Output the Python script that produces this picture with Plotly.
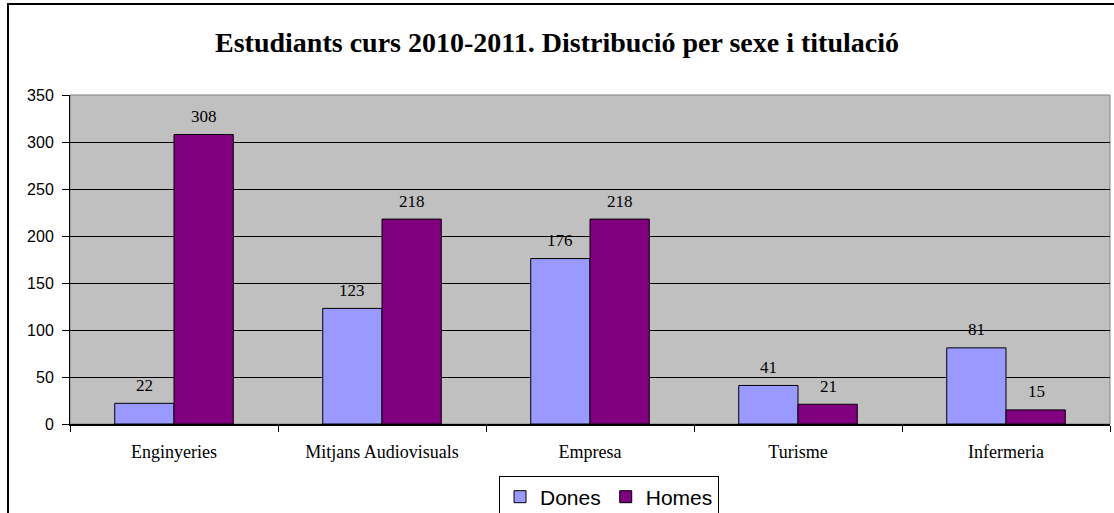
import plotly.graph_objects as go

categories = ["Enginyeries", "Mitjans Audiovisuals", "Empresa", "Turisme", "Infermeria"]
dones = [22, 123, 176, 41, 81]
homes = [308, 218, 218, 21, 15]
title = "Estudiants curs 2010-2011. Distribució per sexe i titulació"

fig = go.Figure()
fig.add_trace(go.Bar(x=categories, y=dones, name="Dones",
                     marker=dict(color="#9999FF", line=dict(color="black", width=1))))
fig.add_trace(go.Bar(x=categories, y=homes, name="Homes",
                     marker=dict(color="#800080", line=dict(color="black", width=1))))

for vals, shift in ((dones, -30), (homes, 30)):
    for c, v in zip(categories, vals):
        fig.add_annotation(x=c, y=v, text=str(v), showarrow=False, xshift=shift,
                           yshift=18, yanchor="middle",
                           font=dict(family="Liberation Serif", size=17, color="black"))

# outer chart border
fig.add_shape(type="rect", xref="paper", yref="paper", x0=-0.0596, x1=1.02, y0=-0.35, y1=1.2766,
              line=dict(color="black", width=2), layer="below")
# plot area border (gray)
fig.add_shape(type="rect", xref="paper", yref="paper", x0=0, x1=1, y0=0, y1=1,
              line=dict(color="#808080", width=1), layer="below")

fig.update_layout(
    width=1114, height=513,
    margin=dict(l=70, r=4, t=95, b=89),
    paper_bgcolor="white", plot_bgcolor="#C0C0C0",
    title=dict(text="<b>" + title + "</b>", x=0.5, xref="container", y=0.918, yanchor="middle",
               font=dict(family="Liberation Serif", size=28, color="black")),
    barmode="group", bargap=0.43, bargroupgap=0,
    showlegend=True,
    legend=dict(orientation="h", xref="container", yref="container",
                x=0.5467, xanchor="center", y=0.073, yanchor="top",
                bordercolor="black", borderwidth=1, bgcolor="white",
                font=dict(family="Liberation Sans", size=21, color="black"),
                itemwidth=30, tracegroupgap=0),
    xaxis=dict(type="category", tickson="boundaries", ticks="outside", ticklen=6,
               tickcolor="black", showline=True, linecolor="black", linewidth=2,
               showgrid=False, ticklabelstandoff=10,
               tickfont=dict(family="Liberation Serif", size=18, color="black")),
    yaxis=dict(range=[0, 350], dtick=50, ticks="outside", ticklen=7, tickcolor="black",
               showline=True, linecolor="black", linewidth=1,
               showgrid=True, gridcolor="black", gridwidth=1, zeroline=False,
               ticklabelstandoff=5,
               tickfont=dict(family="Liberation Sans", size=16, color="black")),
)

fig.write_html("out.html", config={"displayModeBar": False},
               post_script="document.body.style.margin='0';")
